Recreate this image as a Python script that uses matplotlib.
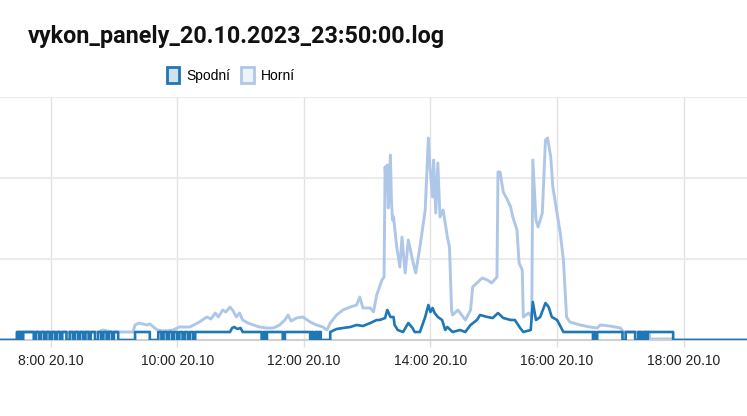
import matplotlib
matplotlib.use("Agg")
import matplotlib.pyplot as plt
import matplotlib.dates as mdates
from matplotlib.patches import Patch
import pandas as pd

DEN = "2023-10-20"
NAZEV = "vykon_panely_20.10.2023_23:50:00.log"
KLIDOVY = 80          # W, Spodní in idle state
ROZSAH = ("07:12", "19:00")

# Horní: (time, W)
horni = [
    ("07:12", 0), ("07:28", 0), ("07:29", 80), ("08:46", 80), ("08:49", 100),
    ("08:54", 90), ("08:58", 80), ("09:18", 80), ("09:20", 150), ("09:24", 170),
    ("09:31", 150), ("09:34", 160), ("09:41", 100), ("09:48", 90), ("09:56", 100),
    ("10:02", 130), ("10:12", 130), ("10:21", 180), ("10:28", 230), ("10:32", 210),
    ("10:36", 270), ("10:39", 230), ("10:43", 300), ("10:46", 280), ("10:50", 330),
    ("10:53", 290), ("10:56", 230), ("10:59", 270), ("11:02", 200), ("11:07", 170),
    ("11:12", 150), ("11:18", 130), ("11:25", 120), ("11:31", 120), ("11:37", 150),
    ("11:42", 200), ("11:45", 250), ("11:48", 190), ("11:53", 220), ("11:59", 230),
    ("12:06", 180), ("12:12", 150), ("12:18", 130), ("12:22", 100), ("12:25", 170),
    ("12:31", 250), ("12:37", 300), ("12:44", 330), ("12:50", 350), ("12:53", 430),
    ("12:56", 320), ("13:03", 320), ("13:06", 280), ("13:09", 450), ("13:14", 600),
    ("13:16", 630), ("13:17", 1730), ("13:18", 1500), ("13:19", 1750), ("13:20", 1320),
    ("13:22", 1850), ("13:23", 1400), ("13:24", 1200), ("13:25", 1230), ("13:28", 930),
    ("13:31", 730), ("13:33", 1030), ("13:36", 670), ("13:39", 1000), ("13:43", 800),
    ("13:46", 670), ("13:50", 930), ("13:55", 1300), ("13:58", 2020), ("13:59", 1800),
    ("14:02", 1430), ("14:03", 1800), ("14:05", 1270), ("14:07", 1770), ("14:09", 1230),
    ("14:12", 1300), ("14:16", 1030), ("14:18", 930), ("14:20", 300), ("14:21", 250),
    ("14:26", 300), ("14:31", 230), ("14:33", 200), ("14:38", 300), ("14:40", 530),
    ("14:44", 570), ("14:49", 620), ("14:54", 600), ("14:58", 570), ("15:03", 630),
    ("15:04", 1680), ("15:06", 1680), ("15:09", 1480), ("15:13", 1400), ("15:16", 1330),
    ("15:18", 1230), ("15:22", 1100), ("15:24", 770), ("15:27", 700), ("15:28", 230),
    ("15:33", 270), ("15:36", 230), ("15:37", 1800), ("15:40", 1200), ("15:42", 1130),
    ("15:46", 1270), ("15:49", 2000), ("15:51", 2020), ("15:54", 1830), ("15:56", 1530),
    ("16:00", 1270), ("16:03", 1070), ("16:06", 800), ("16:09", 230), ("16:12", 180),
    ("16:22", 150), ("16:31", 130), ("16:38", 120), ("16:41", 150), ("16:50", 140),
    ("17:00", 120), ("17:03", 80), ("17:27", 80), ("17:28", 10), ("17:49", 10),
    ("17:50", 0), ("19:00", 0),
]

# Spodní - morning switching on/off (intervals at idle level)
spodni_rano_zap = [
    ("07:28", "07:30"), ("07:31", "07:33"), ("07:34", "07:44"),
    ("07:46", "07:49"), ("07:51", "07:54"), ("07:56", "07:59"), ("08:01", "08:04"),
    ("08:06", "08:09"), ("08:11", "08:15"),
    ("08:18", "08:21"), ("08:23", "08:26"), ("08:28", "08:31"), ("08:33", "08:36"),
    ("08:38", "08:42"),
    ("08:45", "08:48"), ("08:50", "08:53"), ("08:55", "08:58"), ("09:00", "09:04"),
    ("09:20", "09:34"),
    ("09:42", "09:45"), ("09:47", "09:50"), ("09:52", "09:55"), ("09:57", "10:00"),
    ("10:02", "10:05"), ("10:07", "10:10"), ("10:12", "10:15"),
]

# Spodní - daytime (time, W)
spodni_den = [
    ("10:17", 0), ("10:17", 80), ("10:50", 80), ("10:52", 120), ("10:54", 130),
    ("10:57", 110), ("11:00", 120), ("11:02", 80),
    ("11:20", 80), ("11:20", 0), ("11:22", 0), ("11:22", 80), ("11:24", 80),
    ("11:24", 0), ("11:25", 0), ("11:25", 80), ("11:40", 80), ("11:40", 0),
    ("11:42", 0), ("11:42", 80),
    ("12:06", 80), ("12:06", 0), ("12:07", 0), ("12:07", 80), ("12:09", 80),
    ("12:09", 0), ("12:11", 0), ("12:11", 80), ("12:13", 80), ("12:13", 0),
    ("12:14", 0), ("12:14", 80), ("12:16", 80), ("12:16", 0),
    ("12:25", 0), ("12:25", 80),
    ("12:31", 110), ("12:37", 120), ("12:44", 130), ("12:50", 150), ("12:56", 140),
    ("13:03", 170), ("13:09", 200), ("13:12", 200), ("13:17", 220), ("13:19", 300),
    ("13:20", 280), ("13:22", 230), ("13:25", 230), ("13:26", 150), ("13:29", 100),
    ("13:34", 80), ("13:39", 170), ("13:43", 120), ("13:45", 80), ("13:50", 80),
    ("13:55", 230), ("13:58", 350), ("14:00", 280), ("14:02", 320), ("14:04", 270),
    ("14:07", 230), ("14:11", 200), ("14:14", 100), ("14:16", 130), ("14:21", 80),
    ("14:28", 100), ("14:33", 80), ("14:38", 150), ("14:44", 200), ("14:47", 250),
    ("14:54", 230), ("14:59", 220), ("15:04", 270), ("15:09", 220), ("15:16", 200),
    ("15:20", 200), ("15:25", 120), ("15:28", 80), ("15:35", 100), ("15:37", 380),
    ("15:40", 200), ("15:44", 230), ("15:49", 370), ("15:52", 330), ("15:55", 230),
    ("16:00", 200), ("16:05", 100), ("16:06", 80),
]

# Spodní - evening drop-outs (intervals at 0)
spodni_vecer_vyp = [
    ("16:34", "16:35"), ("16:36", "16:38"), ("17:02", "17:05"), ("17:14", "17:17"),
    ("17:18", "17:19"), ("17:20", "17:22"), ("17:23", "17:24"), ("17:25", "17:26"),
]
SPODNI_KONEC = "17:50"


def cas(hhmm):
    return pd.Timestamp(f"{DEN} {hhmm}")


# build Spodní series
sp_t = [ROZSAH[0], "07:28"]
sp_v = [0, 0]
for s, e in spodni_rano_zap:
    sp_t += [s, s, e, e]
    sp_v += [0, KLIDOVY, KLIDOVY, 0]
for t, v in spodni_den:
    sp_t.append(t)
    sp_v.append(v)
for s, e in spodni_vecer_vyp:
    sp_t += [s, s, e, e]
    sp_v += [KLIDOVY, 0, 0, KLIDOVY]
sp_t += [SPODNI_KONEC, SPODNI_KONEC, ROZSAH[1]]
sp_v += [KLIDOVY, 0, 0]

c_spodni = "#1f77b4"
c_horni = "#aec7e8"

fig = plt.figure(figsize=(7.47, 4.16), dpi=100)
ax = fig.add_axes([0, 76 / 416, 1, 243 / 416])

ax.plot([cas(t) for t, _ in horni], [v for _, v in horni], color=c_horni, lw=2.1,
        solid_joinstyle="round", zorder=2)
ax.plot([cas(t) for t in sp_t], sp_v, color=c_spodni, lw=1.9, zorder=3)

ax.set_xlim(cas(ROZSAH[0]), cas(ROZSAH[1]))
ax.set_ylim(0, 2430)
ax.set_yticks([0, 810, 1620, 2430])
ax.set_yticklabels([])
ax.tick_params(axis="y", length=0)

ax.xaxis.set_major_locator(mdates.HourLocator(byhour=range(8, 19, 2)))
ax.xaxis.set_major_formatter(mdates.DateFormatter("%-H:%M %d.%m"))
ax.tick_params(axis="x", length=5, color="#dddddd", width=1, pad=5,
               labelsize=10, labelcolor="#222222")
for lab in ax.get_xticklabels():
    lab.set_family("Liberation Sans")

for side in ("left", "right", "top"):
    ax.spines[side].set_visible(False)
ax.spines["bottom"].set_color("#d0d0d0")
ax.spines["bottom"].set_linewidth(1.5)

ax.yaxis.grid(True, color="#ebebeb", linewidth=1.5)
ax.xaxis.grid(True, color="#e2e2e2", linewidth=1)
ax.set_axisbelow(True)

fig.text(28 / 747, 1 - 36 / 416, NAZEV, fontsize=16.8, fontweight="bold",
         family="Roboto", color="#111111", va="center", ha="left")

handles = [
    Patch(facecolor="#cfe0ef", edgecolor=c_spodni, linewidth=2, label="Spodní"),
    Patch(facecolor="#eef3fa", edgecolor=c_horni, linewidth=2, label="Horní"),
]
fig.legend(handles=handles, loc="center", bbox_to_anchor=(231 / 747, 1 - 75 / 416),
           ncol=2, frameon=False, handlelength=0.9, handleheight=1.3,
           handletextpad=0.5, columnspacing=0.8,
           prop={"family": "Liberation Sans", "size": 10})

fig.savefig("out.png", dpi=100)
